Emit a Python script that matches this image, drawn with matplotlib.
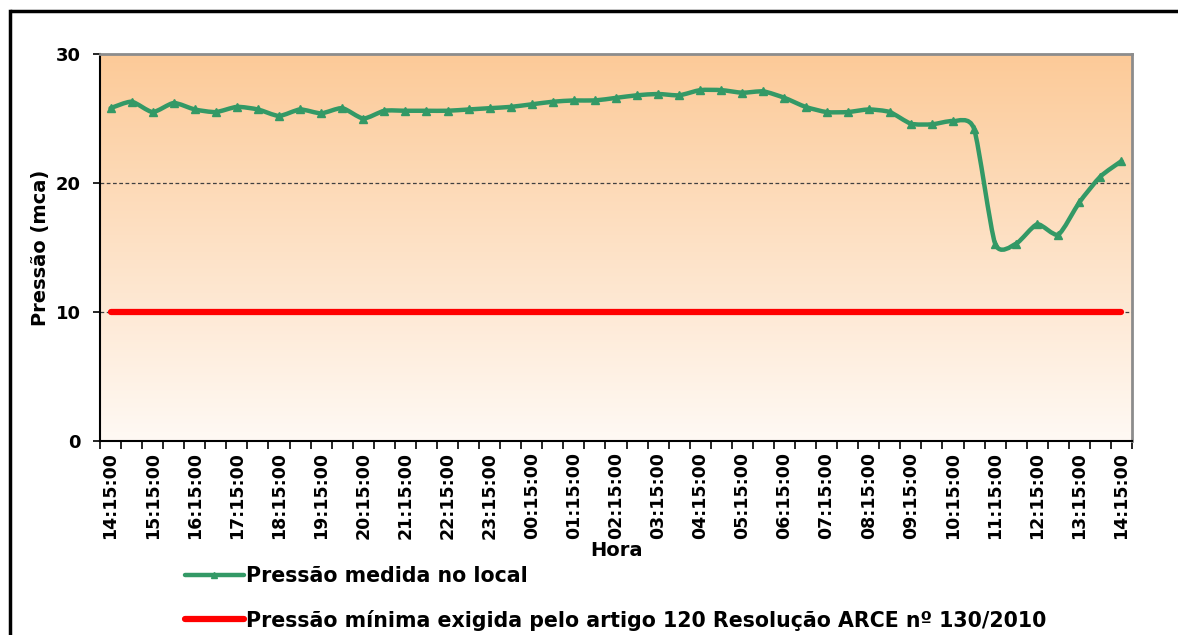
import matplotlib
matplotlib.use('Agg')
import matplotlib.pyplot as plt
import numpy as np
from matplotlib.path import Path
from matplotlib.patches import PathPatch
from matplotlib.lines import Line2D

plt.rcParams['font.family'] = 'DejaVu Sans'
plt.rcParams['font.weight'] = 'bold'

# pressure readings every 30 min, 14:15 -> 14:15 next day
pressao = [25.8, 26.3, 25.5, 26.2, 25.7, 25.5, 25.9, 25.7, 25.2, 25.7,
           25.4, 25.8, 25.0, 25.6, 25.6, 25.6, 25.6, 25.7, 25.8, 25.9,
           26.1, 26.3, 26.4, 26.4, 26.6, 26.8, 26.9, 26.8, 27.2, 27.2,
           27.0, 27.1, 26.6, 25.9, 25.5, 25.5, 25.7, 25.5, 24.6, 24.55,
           24.8, 24.2, 15.3, 15.3, 16.8, 16.0, 18.5, 20.5, 21.7]
pressao_minima = 10
hora_labels = ['14:15:00', '15:15:00', '16:15:00', '17:15:00', '18:15:00',
               '19:15:00', '20:15:00', '21:15:00', '22:15:00', '23:15:00',
               '00:15:00', '01:15:00', '02:15:00', '03:15:00', '04:15:00',
               '05:15:00', '06:15:00', '07:15:00', '08:15:00', '09:15:00',
               '10:15:00', '11:15:00', '12:15:00', '13:15:00', '14:15:00']
y_ticks = [0, 10, 20, 30]

green = '#339966'
red = '#ff0000'

fig = plt.figure(figsize=(11.78, 6.35), dpi=100)
ax = fig.add_axes([100/1178, 1 - 441/635, 1032/1178, 387/635])

n = len(pressao)
x = np.arange(n)
y = np.array(pressao)

ax.set_xlim(-0.5, n - 0.5)
ax.set_ylim(0, 30)

# gradient background
top = np.array([252, 202, 152]) / 255
bot = np.array([255, 249, 244]) / 255
t = np.linspace(0, 1, 256)[:, None]
grad = (top * (1 - t) + bot * t)[:, None, :]
ax.imshow(grad, extent=[-0.5, n - 0.5, 0, 30], aspect='auto', zorder=0)

# grid lines
for v in y_ticks[1:3]:
    ax.axhline(v, color='#404040', lw=0.9, ls=(0, (3, 2)), zorder=1)

# red minimum line
ax.plot([x[0], x[-1]], [pressao_minima, pressao_minima], color=red, lw=4.5,
        solid_capstyle='round', zorder=3)

# smoothed green line (bezier through the points, like Excel's smoothing)
k = 0.11
pts = np.column_stack([x, y])
verts = [pts[0]]
codes = [Path.MOVETO]
for i in range(n - 1):
    p0 = pts[i - 1] if i > 0 else pts[i]
    p1 = pts[i]
    p2 = pts[i + 1]
    p3 = pts[i + 2] if i + 2 < n else pts[i + 1]
    c1 = p1 + (p2 - p0) * k
    c2 = p2 - (p3 - p1) * k
    verts += [c1, c2, p2]
    codes += [Path.CURVE4] * 3
ax.add_patch(PathPatch(Path(verts, codes), fill=False, edgecolor=green,
                       lw=3.2, capstyle='round', joinstyle='round', zorder=4))
ax.plot(x, y, ls='none', marker='^', ms=6, color=green, zorder=5)

# axes styling
for s in ['top', 'right']:
    ax.spines[s].set_color('#8c8c8c')
    ax.spines[s].set_linewidth(2)
for s in ['left', 'bottom']:
    ax.spines[s].set_color('#000000')
    ax.spines[s].set_linewidth(1.5)

ax.set_yticks(y_ticks)
ax.set_yticklabels([str(v) for v in y_ticks], fontsize=13, fontweight='bold')
ax.tick_params(axis='y', direction='out', length=5, width=1.2, pad=9)

ax.set_xticks(np.arange(-0.5, n, 1.0))
ax.set_xticklabels([])
ax.tick_params(axis='x', which='major', direction='out', length=6, width=1.2)
ax.set_xticks(np.arange(0, n, 2), minor=True)
ax.set_xticklabels(hora_labels, minor=True, rotation=90, fontsize=12.5,
                   fontweight='bold')
ax.tick_params(axis='x', which='minor', length=0, pad=8)

ax.set_ylabel('Pressão (mca)', fontsize=14, fontweight='bold', labelpad=4)
ax.set_xlabel('Hora', fontsize=14, fontweight='bold', labelpad=1)

# legend
handles = [Line2D([], [], color=green, lw=3.2, marker='^', ms=5,
                  markevery=[1], solid_capstyle='round'),
           Line2D([], [], color=red, lw=4.5, solid_capstyle='round')]
labels = ['Pressão medida no local',
          'Pressão mínima exigida pelo artigo 120 Resolução ARCE nº 130/2010']
fig.legend(handles, labels, loc='upper left', bbox_to_anchor=(185/1178, 1 - 566/635),
           frameon=False, handlelength=2.85, handletextpad=0.12,
           labelspacing=1.15, borderpad=0, borderaxespad=0,
           prop={'weight': 'bold', 'size': 14.8})

# outer frame (left and top edges visible)
fig.add_artist(Line2D([9.5/1178, 9.5/1178], [0, 1 - 10.5/635], color='black', lw=2.5,
                      transform=fig.transFigure))
fig.add_artist(Line2D([9.5/1178, 1], [1 - 10.5/635, 1 - 10.5/635], color='black', lw=2.5,
                      solid_capstyle='butt', transform=fig.transFigure))

fig.savefig('out.png', dpi=100, facecolor='white')
